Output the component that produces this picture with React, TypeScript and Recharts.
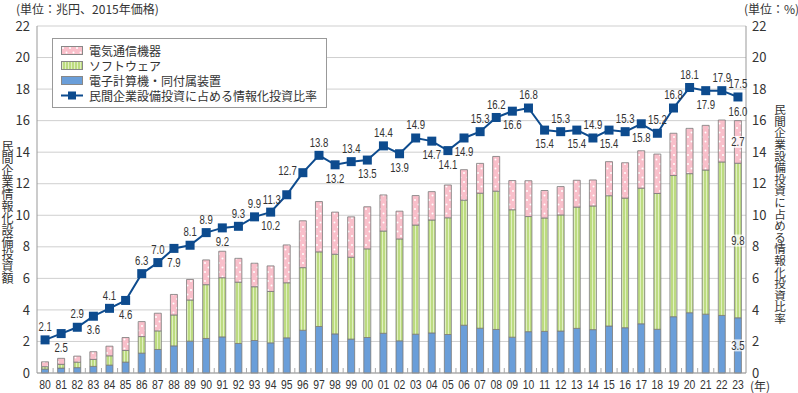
import * as React from 'react'
import { Bar, CartesianGrid, ComposedChart, LabelList, Line, XAxis, YAxis } from 'recharts'

// DATA (兆円 / %)

const years = ['80', '81', '82', '83', '84', '85', '86', '87', '88', '89', '90', '91', '92', '93', '94', '95', '96', '97', '98', '99', '00', '01', '02', '03', '04', '05', '06', '07', '08', '09', '10', '11', '12', '13', '14', '15', '16', '17', '18', '19', '20', '21', '22', '23']

// 電子計算機・同付属装置
const hardware = [0.25, 0.31, 0.34, 0.42, 0.5, 0.69, 1.26, 1.49, 1.72, 2.02, 2.19, 2.29, 1.87, 2.06, 1.91, 2.23, 2.71, 2.95, 2.48, 2.15, 2.25, 2.52, 2.04, 2.46, 2.54, 2.44, 3.03, 2.84, 2.76, 2.27, 2.62, 2.64, 2.66, 2.83, 2.75, 2.98, 2.87, 3.12, 2.77, 3.57, 3.82, 3.73, 3.65, 3.5]
// ソフトウェア
const software = [0.15, 0.24, 0.35, 0.44, 0.59, 0.74, 1.05, 1.18, 1.96, 2.61, 3.41, 3.75, 3.89, 3.41, 3.26, 3.49, 3.97, 4.73, 5.05, 5.19, 5.62, 6.48, 6.46, 6.92, 7.16, 7.4, 7.93, 8.56, 8.77, 8.08, 7.3, 7.19, 7.36, 7.69, 7.84, 8.26, 8.22, 8.6, 8.61, 8.95, 8.82, 9.14, 9.73, 9.8]
// 電気通信機器
const telecom = [0.31, 0.38, 0.38, 0.49, 0.61, 0.82, 0.95, 1.12, 1.3, 1.3, 1.57, 1.68, 1.51, 1.49, 1.62, 2.4, 2.97, 3.19, 2.67, 2.56, 2.67, 2.29, 1.76, 1.87, 1.8, 2.08, 1.93, 1.89, 2.2, 1.85, 2.27, 1.74, 1.8, 1.7, 1.65, 2.16, 2.24, 2.37, 2.5, 2.68, 2.87, 2.83, 2.66, 2.7]
// 民間企業設備投資に占める情報化投資比率
const ratio = [2.1, 2.5, 2.9, 3.6, 4.1, 4.6, 6.3, 7.0, 7.9, 8.1, 8.9, 9.2, 9.3, 9.9, 10.2, 11.3, 12.7, 13.8, 13.2, 13.4, 13.5, 14.4, 13.9, 14.9, 14.7, 14.1, 14.9, 15.3, 16.2, 16.6, 16.8, 15.4, 15.3, 15.4, 14.9, 15.4, 15.3, 15.8, 15.2, 16.8, 18.1, 17.9, 17.9, 17.5]

// where each ratio label sits relative to its marker
const ratioLabelSide = ['up', 'down', 'up', 'down', 'up', 'down', 'up', 'up', 'down', 'up', 'up', 'down', 'up', 'up', 'down', 'left', 'left', 'up', 'down', 'up', 'down', 'up', 'down', 'up', 'down', 'down', 'down', 'up', 'up', 'down', 'up', 'down', 'up', 'down', 'up', 'down', 'up', 'down', 'up', 'up', 'up', 'down', 'up', 'up']

const yTicks = [0, 2, 4, 6, 8, 10, 12, 14, 16, 18, 20, 22]

const data = years.map((year, i) => ({
    year,
    hardware: hardware[i],
    software: software[i],
    telecom: telecom[i],
    total: hardware[i] + software[i] + telecom[i],
    ratio: ratio[i],
}))

// LAYOUT

const W = 798
const H = 393
const PLOT_BOTTOM = 373
const LAST = years.length - 1

const CJK = '"Noto Sans CJK JP", "Noto Sans", sans-serif'
const NUM = '"Liberation Sans", "Noto Sans", sans-serif'

const BLUE = '#6a9ed9'
const LINE = '#0d4b8e'
const TEXT = '#333'

// condensed number text (the source uses a narrow face)
const Narrow = (props: { x: number, y: number, anchor?: string, size?: number, children: any }) => (
    <text transform={`translate(${props.x},${props.y}) scale(0.8,1)`} dy='0.35em' textAnchor={props.anchor || 'middle'} fontFamily={NUM} fontSize={props.size || 12} fill={TEXT}>{props.children}</text>
)

const YearTick = (props: any) => {
    const { x, payload, index } = props
    const half = payload && payload.offset ? payload.offset : 8
    return (
        <g>
            {index < LAST && <line x1={x + half} x2={x + half} y1={PLOT_BOTTOM} y2={PLOT_BOTTOM - 5} stroke='#aaa' strokeWidth={1}/>}
            <Narrow x={x} y={PLOT_BOTTOM + 11} size={13}>{payload.value}</Narrow>
        </g>
    )
}

const SquareDot = (props: any) => {
    const { cx, cy } = props
    if (cx == null || cy == null) return null
    return <rect x={cx - 4.5} y={cy - 4.5} width={9} height={9} fill={LINE}/>
}

const RatioLabel = (props: any) => {
    const { x, y, value, index } = props
    const side = ratioLabelSide[index]
    let tx = x
    let ty = y - 13
    let anchor = 'middle'
    if (side === 'down') ty = y + 14
    if (side === 'left') { tx = x - 6; ty = y + (index === 15 ? 5 : -2); anchor = 'end' }
    return <Narrow x={tx} y={ty} anchor={anchor} size={12}>{Number(value).toFixed(1)}</Narrow>
}

const SegmentLabel = (props: any) => {
    const { x, y, width, height, value, index } = props
    if (index !== LAST) return null
    const cx = x + width / 2
    const cy = y + height / 2
    return (
        <g>
            <rect x={cx - 7} y={cy - 6} width={14} height={12} fill='rgba(255,255,255,0.75)'/>
            <Narrow x={cx} y={cy} size={12}>{Number(value).toFixed(1)}</Narrow>
        </g>
    )
}

const TotalLabel = (props: any) => {
    const { x, y, width, index } = props
    if (index !== LAST) return null
    return <Narrow x={x + width / 2} y={y - 9} size={12}>{data[LAST].total.toFixed(1)}</Narrow>
}

const Patterns = () => (
    <svg width={0} height={0} style={{ position: 'absolute' }}>
        <defs>
            <pattern id='pinkDots' width={7} height={9} patternUnits='userSpaceOnUse'>
                <rect width={7} height={9} fill='#f9bfca'/>
                <circle cx={2} cy={2} r={1} fill='#fff'/>
                <circle cx={5.5} cy={6.5} r={1} fill='#fff'/>
            </pattern>
            <pattern id='greenStripe' width={3} height={4} patternUnits='userSpaceOnUse'>
                <rect width={3} height={4} fill='#bcdb80'/>
                <rect x={1} width={1} height={4} fill='#e0f0c0'/>
            </pattern>
        </defs>
    </svg>
)

const legendItems = [
    { name: '電気通信機器', fill: 'url(#pinkDots)' },
    { name: 'ソフトウェア', fill: 'url(#greenStripe)' },
    { name: '電子計算機・同付属装置', fill: BLUE },
]

const rowStyle: React.CSSProperties = { display: 'flex', alignItems: 'center', height: 15, lineHeight: '15px', whiteSpace: 'nowrap' }

const LegendBox = () => (
    <div style={{ position: 'absolute', left: 52, top: 38, width: 275, height: 70, border: '1px solid #999', background: '#fff', fontFamily: CJK, fontSize: 12, color: TEXT, boxSizing: 'border-box', padding: '4px 0 0 8px' }}>
        {legendItems.map(item => (
            <div key={item.name} style={rowStyle}>
                <svg width={22} height={9} style={{ marginRight: 6, flex: 'none' }}>
                    <rect x={0.5} y={0.5} width={21} height={8} fill={item.fill} stroke='#888' strokeWidth={1}/>
                </svg>
                <span>{item.name}</span>
            </div>
        ))}
        <div style={rowStyle}>
            <svg width={22} height={9} style={{ marginRight: 6, flex: 'none' }}>
                <line x1={0} x2={22} y1={4.5} y2={4.5} stroke={LINE} strokeWidth={2}/>
                <rect x={7} y={0.5} width={8} height={8} fill={LINE}/>
            </svg>
            <span>民間企業設備投資に占める情報化投資比率</span>
        </div>
    </div>
)

export default function App() {
    return (
        <div style={{ position: 'relative', width: W, height: H, background: '#fff', fontFamily: CJK }}>
            <style>{'body { margin: 0; }'}</style>
            <Patterns/>
            <ComposedChart width={W} height={H} data={data} margin={{ top: 26, right: 0, bottom: 0, left: 0 }} barCategoryGap='28%'>
                <CartesianGrid vertical={false} stroke='#cfcfcf' yAxisId='l'/>
                <XAxis dataKey='year' height={20} axisLine={{ stroke: '#999' }} tickLine={false} tick={<YearTick/>} interval={0}/>
                <YAxis yAxisId='l' width={37} domain={[0, 22]} ticks={yTicks} interval={0} axisLine={{ stroke: '#999' }} tickLine={false} tickSize={0} tickMargin={7} tick={{ fontSize: 13, fill: TEXT, fontFamily: CJK }}/>
                <YAxis yAxisId='r' orientation='right' width={52} domain={[0, 22]} ticks={yTicks} interval={0} axisLine={{ stroke: '#999' }} tickLine={false} tickSize={0} tickMargin={6} tick={{ fontSize: 13, fill: TEXT, fontFamily: CJK }}/>
                <Bar yAxisId='l' dataKey='hardware' stackId='a' fill={BLUE} stroke='#7a7a7a' strokeWidth={0.8} isAnimationActive={false}>
                    <LabelList dataKey='hardware' content={<SegmentLabel/>}/>
                </Bar>
                <Bar yAxisId='l' dataKey='software' stackId='a' fill='url(#greenStripe)' stroke='#7a7a7a' strokeWidth={0.8} isAnimationActive={false}>
                    <LabelList dataKey='software' content={<SegmentLabel/>}/>
                </Bar>
                <Bar yAxisId='l' dataKey='telecom' stackId='a' fill='url(#pinkDots)' stroke='#7a7a7a' strokeWidth={0.8} isAnimationActive={false}>
                    <LabelList dataKey='telecom' content={<SegmentLabel/>}/>
                    <LabelList dataKey='total' content={<TotalLabel/>}/>
                </Bar>
                <Line yAxisId='r' dataKey='ratio' stroke={LINE} strokeWidth={2} dot={<SquareDot/>} activeDot={false} isAnimationActive={false}>
                    <LabelList dataKey='ratio' content={<RatioLabel/>}/>
                </Line>
            </ComposedChart>
            <LegendBox/>
            <div style={{ position: 'absolute', left: 16, top: 0, fontSize: 12, lineHeight: '17px', color: TEXT, whiteSpace: 'nowrap' }}>(単位：兆円、2015年価格)</div>
            <div style={{ position: 'absolute', left: 744, top: 0, fontSize: 12, lineHeight: '17px', color: TEXT, whiteSpace: 'nowrap' }}>(単位：%)</div>
            <div style={{ position: 'absolute', left: 1, top: 140, fontSize: 12, lineHeight: '12px', color: TEXT, writingMode: 'vertical-rl' }}>民間企業情報化設備投資額</div>
            <div style={{ position: 'absolute', left: 774, top: 104, fontSize: 11.6, lineHeight: '12px', color: TEXT, writingMode: 'vertical-rl' }}>民間企業設備投資に占める情報化投資比率</div>
            <div style={{ position: 'absolute', left: 750, top: 379, fontSize: 12, lineHeight: '14px', color: TEXT, whiteSpace: 'nowrap' }}>(年)</div>
        </div>
    )
}
